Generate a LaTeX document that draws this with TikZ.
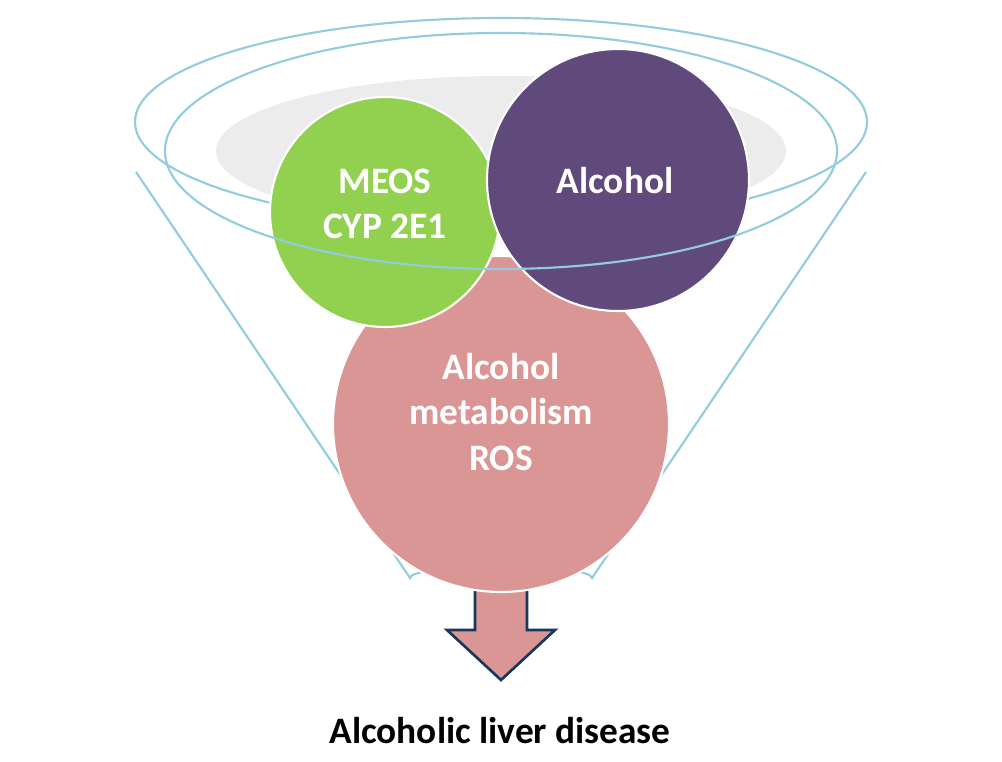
\documentclass[tikz,border=0pt]{standalone}
\usepackage{fontspec}
\setmainfont{Carlito}
\begin{document}
\begin{tikzpicture}[x=0.75pt,y=-0.75pt,
  bubble/.style={circle, draw=white, line width=1.6pt, inner sep=0pt},
  lbl/.style={text=white, font=\fontsize{28}{34}\selectfont\bfseries, align=center}]
\definecolor{fl}{HTML}{93CDDD}
\definecolor{gr}{HTML}{92D050}
\definecolor{pu}{HTML}{604A7B}
\definecolor{pk}{HTML}{D99694}
\definecolor{nv}{HTML}{17375E}
\useasboundingbox (0,0) rectangle (1002,762);
% outer funnel
\draw[draw=fl, line width=1.6pt] (501,122) ellipse [x radius=366, y radius=104];
\draw[draw=fl, line width=1.6pt] (136,172) -- (410,578) arc[start angle=180,end angle=360,x radius=91,y radius=12] -- (866,172);
% gray
\fill[gray!15] (501,151) ellipse [x radius=285, y radius=75];
% arrow
\draw[fill=pk, draw=nv, line width=2pt] (475,578) -- (527,578) -- (527,630) -- (555,630) -- (501,680) -- (447,630) -- (475,630) -- cycle;
% circles
\node[bubble, fill=pk, minimum size=252pt] (ros) at (501,424) {};
\node[bubble, fill=gr, minimum size=172.5pt] (meos) at (385,212) {};
\node[bubble, fill=pu, minimum size=196.5pt] (alc) at (618,180) {};
\draw[draw=fl, line width=1.6pt] (501,151) ellipse [x radius=336, y radius=118];
\node[lbl] (t1) at (385,204) {MEOS\\CYP 2E1};
\node[lbl] (t2) at (615,181) {Alcohol};
\node[lbl] (t3) at (501,412) {Alcohol\\metabolism\\ROS};
\node[font=\fontsize{28}{34}\selectfont\bfseries] (out) at (500,731) {Alcoholic liver disease};
\end{tikzpicture}
\end{document}
